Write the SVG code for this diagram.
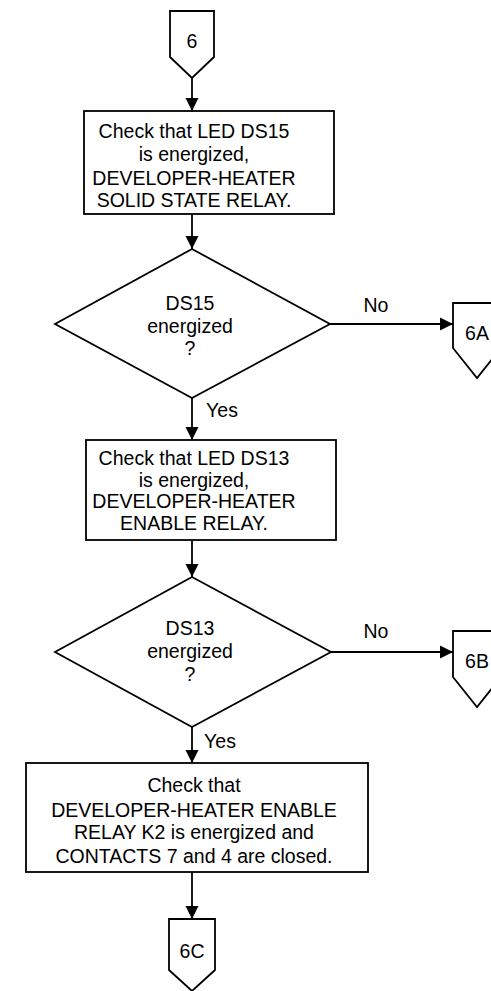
<svg xmlns="http://www.w3.org/2000/svg" width="491" height="991" viewBox="0 0 491 991">
<defs>
<style>
.s{fill:#fff;stroke:#000;stroke-width:1.8}
.t{font-family:"Liberation Sans",Arial,sans-serif;font-size:19.5px;fill:#000;text-anchor:middle}
.c{fill:none;stroke:#000;stroke-width:1.8}
</style>
<marker id="ah" viewBox="0 0 10 10" refX="10" refY="5" markerUnits="userSpaceOnUse" markerWidth="13" markerHeight="15" orient="auto">
<path d="M0,0 L10,5 L0,10 z" fill="#000"/>
</marker>
</defs>
<rect width="491" height="991" fill="#fff"/>
<g id="connectors">
<path class="c" d="M192 78 V111" marker-end="url(#ah)"/>
<path class="c" d="M192 214 V249" marker-end="url(#ah)"/>
<path class="c" d="M330 324 H453" marker-end="url(#ah)"/>
<path class="c" d="M192 398 V440" marker-end="url(#ah)"/>
<path class="c" d="M192 540 V577" marker-end="url(#ah)"/>
<path class="c" d="M331 652 H453" marker-end="url(#ah)"/>
<path class="c" d="M192 727 V763" marker-end="url(#ah)"/>
<path class="c" d="M192 872 V919" marker-end="url(#ah)"/>
<text class="t" x="376" y="312">No</text>
<text class="t" x="376" y="638">No</text>
<text class="t" x="222" y="417">Yes</text>
<text class="t" x="220" y="748">Yes</text>
</g>
<g id="conn6">
<polygon class="s" points="170,11 214,11 214,57 192,78 170,57"/>
<text class="t" x="192" y="48">6</text>
</g>
<g id="box1">
<rect class="s" x="84" y="111" width="250" height="103"/>
<text class="t" x="194" y="138">Check that LED DS15</text>
<text class="t" x="194" y="161">is energized,</text>
<text class="t" x="194" y="185">DEVELOPER-HEATER</text>
<text class="t" x="194" y="207">SOLID STATE RELAY.</text>
</g>
<g id="dec1">
<polygon class="s" points="192,249 330,324 192,398 55,324"/>
<text class="t" x="190" y="310">DS15</text>
<text class="t" x="190" y="333">energized</text>
<text class="t" x="190" y="355">?</text>
</g>
<g id="conn6A">
<polygon class="s" points="453,303 501,303 501,348 477,378 453,348"/>
<text class="t" x="477" y="340">6A</text>
</g>
<g id="box2">
<rect class="s" x="86" y="440" width="250" height="100"/>
<text class="t" x="194" y="465">Check that LED DS13</text>
<text class="t" x="194" y="487">is energized,</text>
<text class="t" x="194" y="508">DEVELOPER-HEATER</text>
<text class="t" x="194" y="530">ENABLE RELAY.</text>
</g>
<g id="dec2">
<polygon class="s" points="192,577 331,652 192,727 55,652"/>
<text class="t" x="190" y="635">DS13</text>
<text class="t" x="190" y="658">energized</text>
<text class="t" x="190" y="681">?</text>
</g>
<g id="conn6B">
<polygon class="s" points="453,631 501,631 501,677 477,707 453,677"/>
<text class="t" x="477" y="668">6B</text>
</g>
<g id="box3">
<rect class="s" x="26" y="763" width="342" height="109"/>
<text class="t" x="194" y="792">Check that</text>
<text class="t" x="194" y="817">DEVELOPER-HEATER ENABLE</text>
<text class="t" x="194" y="839">RELAY K2 is energized and</text>
<text class="t" x="194" y="863">CONTACTS 7 and 4 are closed.</text>
</g>
<g id="conn6C">
<polygon class="s" points="169,919 215,919 215,970 192,991 169,970"/>
<text class="t" x="192" y="958">6C</text>
</g>
</svg>
